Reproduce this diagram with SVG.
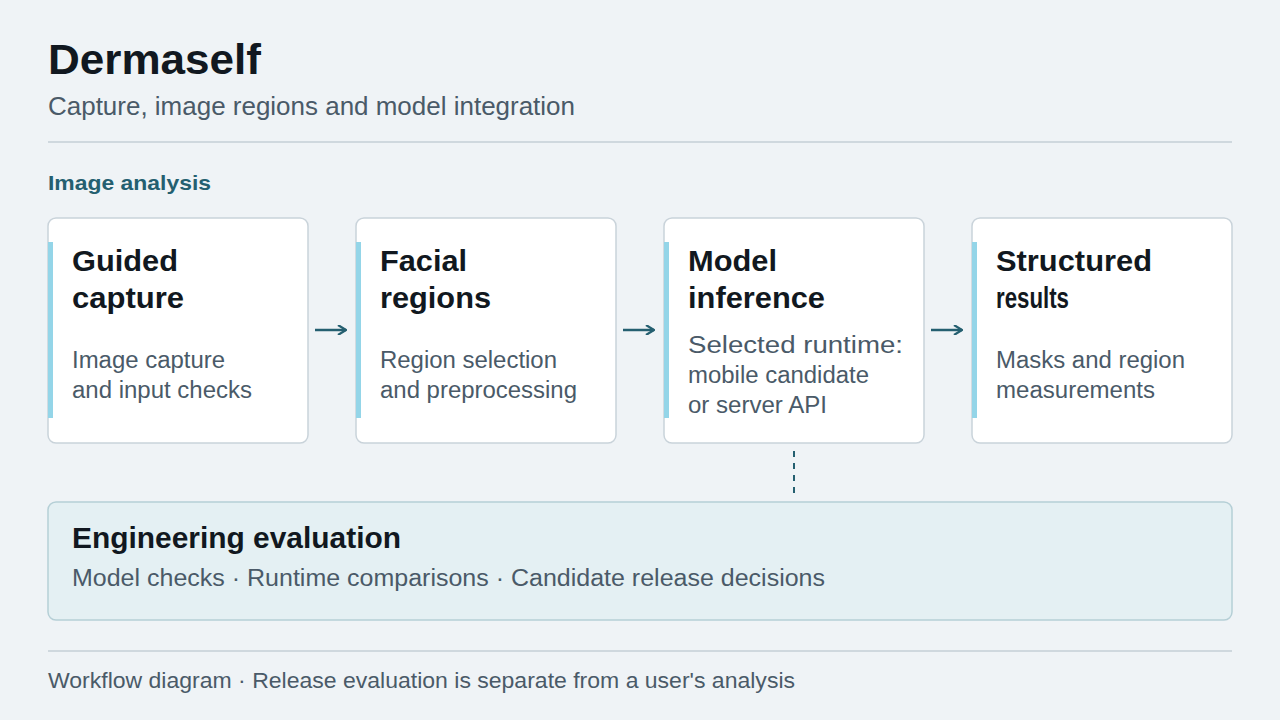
<svg xmlns="http://www.w3.org/2000/svg" width="1280" height="720" viewBox="0 0 1280 720">
<style>
text{font-family:"Liberation Sans",Arial,sans-serif}
.card{fill:#fff;stroke:#c9d3da;stroke-width:1.5}
.bar{fill:#94d5e8}
.t{font-size:29px;font-weight:bold;fill:#111820}
.d{font-size:23px;fill:#4a5a68}
.ar{stroke:#245f70;stroke-width:2.5;fill:none}
</style>
<defs><marker id="ah" viewBox="0 0 10 10" refX="9" refY="5" markerWidth="10" markerHeight="10" markerUnits="userSpaceOnUse"><path d="M1 0 L9 5 L1 10" fill="none" stroke="#245f70" stroke-width="2.2"/></marker></defs>
<rect width="1280" height="720" fill="#eff3f6"/>
<text x="48" y="74" textLength="213" lengthAdjust="spacingAndGlyphs" style="font-size:42px;font-weight:bold;fill:#111820">Dermaself</text>
<text x="48" y="115" textLength="527" lengthAdjust="spacingAndGlyphs" style="font-size:25px;fill:#4a5a68">Capture, image regions and model integration</text>
<line x1="48" y1="142" x2="1232" y2="142" stroke="#c4cfd6" stroke-width="1.5"/>
<text x="48" y="190" textLength="163" lengthAdjust="spacingAndGlyphs" style="font-size:21px;font-weight:bold;fill:#245f70">Image analysis</text>
<g id="n1"><rect class="card" x="48" y="218" width="260" height="225" rx="8"/><rect class="bar" x="48" y="242" width="5" height="176"/><text class="t" x="72" y="271" textLength="106" lengthAdjust="spacingAndGlyphs">Guided</text><text class="t" x="72" y="308" textLength="112" lengthAdjust="spacingAndGlyphs">capture</text><text class="d" x="72" y="368" textLength="153" lengthAdjust="spacingAndGlyphs">Image capture</text><text class="d" x="72" y="398" textLength="180" lengthAdjust="spacingAndGlyphs">and input checks</text></g>
<g id="n2"><rect class="card" x="356" y="218" width="260" height="225" rx="8"/><rect class="bar" x="356" y="242" width="5" height="176"/><text class="t" x="380" y="271" textLength="87" lengthAdjust="spacingAndGlyphs">Facial</text><text class="t" x="380" y="308" textLength="111" lengthAdjust="spacingAndGlyphs">regions</text><text class="d" x="380" y="368" textLength="177" lengthAdjust="spacingAndGlyphs">Region selection</text><text class="d" x="380" y="398" textLength="197" lengthAdjust="spacingAndGlyphs">and preprocessing</text></g>
<g id="n3"><rect class="card" x="664" y="218" width="260" height="225" rx="8"/><rect class="bar" x="664" y="242" width="5" height="176"/><text class="t" x="688" y="271" textLength="89" lengthAdjust="spacingAndGlyphs">Model</text><text class="t" x="688" y="308" textLength="137" lengthAdjust="spacingAndGlyphs">inference</text><text class="d" x="688" y="353" textLength="215" lengthAdjust="spacingAndGlyphs">Selected runtime:</text><text class="d" x="688" y="383" textLength="181" lengthAdjust="spacingAndGlyphs">mobile candidate</text><text class="d" x="688" y="413" textLength="139" lengthAdjust="spacingAndGlyphs">or server API</text></g>
<g id="n4"><rect class="card" x="972" y="218" width="260" height="225" rx="8"/><rect class="bar" x="972" y="242" width="5" height="176"/><text class="t" x="996" y="271" textLength="156" lengthAdjust="spacingAndGlyphs">Structured</text><text class="t" x="996" y="308" textLength="73" lengthAdjust="spacingAndGlyphs">results</text><text class="d" x="996" y="368" textLength="189" lengthAdjust="spacingAndGlyphs">Masks and region</text><text class="d" x="996" y="398" textLength="159" lengthAdjust="spacingAndGlyphs">measurements</text></g>
<g id="n5"><rect x="48" y="502" width="1184" height="118" rx="8" fill="#e4f0f3" stroke="#b5cfd6" stroke-width="1.5"/><text class="t" x="72" y="548" textLength="329" lengthAdjust="spacingAndGlyphs">Engineering evaluation</text><text class="d" x="72" y="586" textLength="753" lengthAdjust="spacingAndGlyphs">Model checks · Runtime comparisons · Candidate release decisions</text></g>
<g id="connectors">
<line class="ar" x1="315" y1="330" x2="346" y2="330" marker-end="url(#ah)"/>
<line class="ar" x1="623" y1="330" x2="654" y2="330" marker-end="url(#ah)"/>
<line class="ar" x1="931" y1="330" x2="962" y2="330" marker-end="url(#ah)"/>
<line x1="794" y1="451" x2="794" y2="494" stroke="#245f70" stroke-width="2" stroke-dasharray="6 6"/>
</g>
<line x1="48" y1="651" x2="1232" y2="651" stroke="#c4cfd6" stroke-width="1.5"/>
<text x="48" y="688" textLength="747" lengthAdjust="spacingAndGlyphs" style="font-size:22px;fill:#4a5a68">Workflow diagram · Release evaluation is separate from a user's analysis</text>
</svg>
